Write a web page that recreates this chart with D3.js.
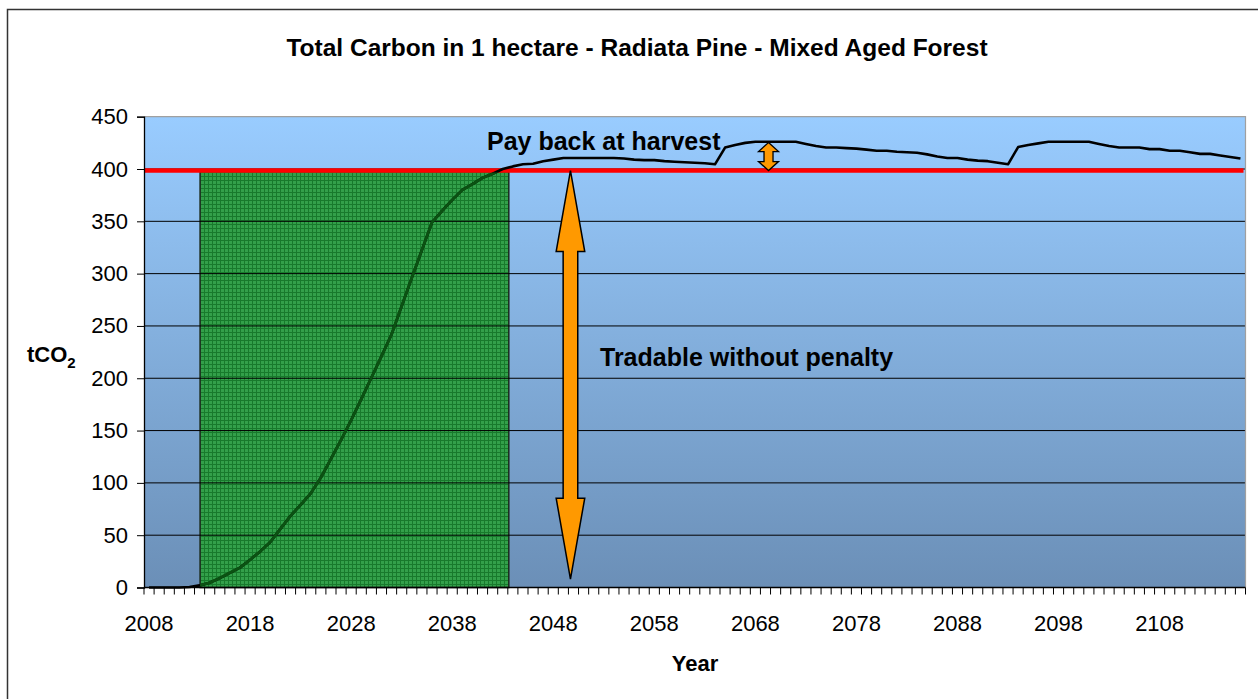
<!DOCTYPE html>
<html>
<head>
<meta charset="utf-8">
<script src="https://cdn.jsdelivr.net/npm/d3@7"></script>
<style>
  html, body { margin: 0; padding: 0; background: #ffffff; }
  svg { display: block; font-family: "Liberation Sans", Arial, sans-serif; }
</style>
</head>
<body>
<div id="chart"></div>
<script>
// Total carbon (tCO2) per hectare, one value per year from 2008
const startYear = 2008;
const carbon = [
  0, 0, 0, 0, 0.5, 2, 4.5, 9, 14, 19,
  26.5, 34.5, 43.5, 56, 68.5, 79, 90, 105, 123, 141,
  160, 180, 200.5, 221, 242, 269, 296, 322.5, 349, 360,
  370.5, 380, 385.5, 391.5, 395.5, 400, 402.5, 404.5, 405, 407.5,
  409, 410.5, 410.5, 410.5, 410.5, 410.5, 410.5, 410, 409, 408.5,
  408.5, 407.5, 407, 406.5, 406, 405.5, 404.5, 420.5, 423, 425,
  426, 426, 426, 426, 426, 424, 422, 420.5, 420.5, 420,
  419.5, 418.5, 417.5, 417.5, 416.5, 416, 415.5, 414, 412, 410.5,
  410.5, 409, 408, 407.5, 406, 404.5, 421, 423, 424.5, 426,
  426, 426, 426, 426, 424, 422, 420.5, 420.5, 420.5, 419,
  419, 417.5, 417.5, 416, 414.5, 414.5, 413, 411.5, 410
];
const years = carbon.map((d, i) => startYear + i);

const xTickLabels = [2008, 2018, 2028, 2038, 2048, 2058, 2068, 2078, 2088, 2098, 2108];
const yTicks = [0, 50, 100, 150, 200, 250, 300, 350, 400, 450];

// annotations (in data units)
const thresholdValue = 398.5;
const growthWindow = [2013.05, 2043.6];
const tradableArrow = [2049.7, 398.5, 8];   // year, top, bottom
const paybackArrow = [2069.3, 425.3, 398.5];

const width = 1258, height = 699;
const plot = { left: 144, right: 1245.5, top: 116.7, bottom: 587.5 };

const svg = d3.select("#chart").append("svg")
  .attr("width", width)
  .attr("height", height);

const defs = svg.append("defs");

const bg = defs.append("linearGradient")
  .attr("id", "bg")
  .attr("x1", 0).attr("y1", 0).attr("x2", 0).attr("y2", 1);
bg.append("stop").attr("offset", "0%").attr("stop-color", "#99ccff");
bg.append("stop").attr("offset", "100%").attr("stop-color", "#6b8fb7");

// fine green grid fill
const pat = defs.append("pattern")
  .attr("id", "grid")
  .attr("patternUnits", "userSpaceOnUse")
  .attr("width", 4).attr("height", 4);
pat.append("rect").attr("width", 4).attr("height", 4).attr("fill", "#33a04a");
pat.append("path")
  .attr("d", "M0 0.5H4M0.5 0V4")
  .attr("stroke", "#187a2c")
  .attr("stroke-width", 1);

// scales
const x = d3.scaleBand()
  .domain(years)
  .range([plot.left, plot.right])
  .paddingInner(0).paddingOuter(0);
const bw = x.bandwidth();
const xYear = d3.scaleLinear()
  .domain([years[0], years[years.length - 1]])
  .range([x(years[0]) + bw / 2, x(years[years.length - 1]) + bw / 2]);
const y = d3.scaleLinear()
  .domain([0, 450])
  .range([plot.bottom, plot.top]);

// outer chart border
svg.append("rect")
  .attr("x", 7.5).attr("y", 9.5)
  .attr("width", width + 20).attr("height", height + 20)
  .attr("fill", "none")
  .attr("stroke", "#333")
  .attr("stroke-width", 1.5);

// plot background
svg.append("rect")
  .attr("x", plot.left).attr("y", plot.top)
  .attr("width", plot.right - plot.left)
  .attr("height", plot.bottom - plot.top)
  .attr("fill", "url(#bg)");

// growth window block
svg.append("rect")
  .attr("x", xYear(growthWindow[0]))
  .attr("y", y(thresholdValue))
  .attr("width", xYear(growthWindow[1]) - xYear(growthWindow[0]))
  .attr("height", y(0) - y(thresholdValue))
  .attr("fill", "url(#grid)")
  .attr("stroke", "#1c2b1c")
  .attr("stroke-width", 1.5);

// gridlines
svg.append("g")
  .selectAll("line")
  .data(yTicks.filter(d => d > 0 && d < 450))
  .join("line")
  .attr("x1", plot.left).attr("x2", plot.right)
  .attr("y1", d => y(d)).attr("y2", d => y(d))
  .attr("stroke", "#000")
  .attr("stroke-width", 1);

// plot border (top/right)
svg.append("path")
  .attr("d", `M${plot.left},${plot.top}H${plot.right}V${plot.bottom}`)
  .attr("fill", "none")
  .attr("stroke", "#a0a0a0")
  .attr("stroke-width", 1.2);

// red threshold line
svg.append("line")
  .attr("x1", plot.left).attr("x2", plot.right - 2)
  .attr("y1", y(thresholdValue)).attr("y2", y(thresholdValue))
  .attr("stroke", "#ff0000")
  .attr("stroke-width", 4.5);

// carbon line
const line = d3.line()
  .x((d, i) => x(years[i]) + bw / 2)
  .y(d => y(d));

svg.append("path")
  .datum(carbon)
  .attr("d", line)
  .attr("fill", "none")
  .attr("stroke", "#000")
  .attr("stroke-width", 2.6)
  .attr("stroke-linejoin", "round");

// same line seen through the green block
defs.append("clipPath").attr("id", "blockClip")
  .append("rect")
  .attr("x", xYear(growthWindow[0]))
  .attr("y", y(thresholdValue) + 2)
  .attr("width", xYear(growthWindow[1]) - xYear(growthWindow[0]))
  .attr("height", y(0) - y(thresholdValue) - 2);

svg.append("path")
  .datum(carbon)
  .attr("d", line)
  .attr("clip-path", "url(#blockClip)")
  .attr("fill", "none")
  .attr("stroke", "#0b5212")
  .attr("stroke-width", 2.8)
  .attr("stroke-linejoin", "round");

// double headed arrows
function arrowPath(cx, y1, y2, shaftW, headW, headL) {
  const s = shaftW / 2, h = headW / 2;
  return `M${cx},${y1}L${cx + h},${y1 + headL}L${cx + s},${y1 + headL}` +
    `L${cx + s},${y2 - headL}L${cx + h},${y2 - headL}L${cx},${y2}` +
    `L${cx - h},${y2 - headL}L${cx - s},${y2 - headL}L${cx - s},${y1 + headL}` +
    `L${cx - h},${y1 + headL}Z`;
}

svg.append("path")
  .attr("d", arrowPath(xYear(tradableArrow[0]), y(tradableArrow[1]), y(tradableArrow[2]), 14.6, 28.6, 81))
  .attr("fill", "#ff9900")
  .attr("stroke", "#000")
  .attr("stroke-width", 1.5)
  .attr("stroke-linejoin", "miter");

svg.append("path")
  .attr("d", arrowPath(xYear(paybackArrow[0]), y(paybackArrow[1]), y(paybackArrow[2]), 9, 20, 9))
  .attr("fill", "#ff9900")
  .attr("stroke", "#000")
  .attr("stroke-width", 1.3);

// y axis
const yAxis = svg.append("g")
  .attr("transform", `translate(${plot.left},0)`)
  .call(d3.axisLeft(y).tickValues(yTicks).tickSize(7).tickPadding(9));
yAxis.select(".domain").attr("stroke", "#000").attr("stroke-width", 1.3);
yAxis.selectAll(".tick line").attr("stroke", "#000");
yAxis.selectAll(".tick text")
  .attr("font-size", 22)
  .attr("fill", "#000")
  .attr("font-family", "Liberation Sans, Arial, sans-serif");

// x axis: ticks between categories, labels every 10 years
const xAxis = svg.append("g").attr("transform", `translate(0,${plot.bottom})`);
xAxis.append("line")
  .attr("x1", plot.left).attr("x2", plot.right)
  .attr("stroke", "#000").attr("stroke-width", 1.3);
xAxis.selectAll("line.tick")
  .data(years.concat([null]))
  .join("line")
  .attr("class", "tick")
  .attr("x1", d => d === null ? plot.right : x(d))
  .attr("x2", d => d === null ? plot.right : x(d))
  .attr("y1", 0).attr("y2", 7)
  .attr("stroke", "#000");
xAxis.selectAll("text")
  .data(xTickLabels)
  .join("text")
  .attr("x", d => x(d) + bw / 2)
  .attr("y", 43)
  .attr("text-anchor", "middle")
  .attr("font-size", 22)
  .text(d => d);

// titles and labels
svg.append("text")
  .attr("x", 637).attr("y", 56)
  .attr("text-anchor", "middle")
  .attr("font-size", 24.5)
  .attr("font-weight", "bold")
  .text("Total Carbon in 1 hectare - Radiata Pine - Mixed Aged Forest");

svg.append("text")
  .attr("x", 695).attr("y", 671)
  .attr("text-anchor", "middle")
  .attr("font-size", 22)
  .attr("font-weight", "bold")
  .text("Year");

const yl = svg.append("text")
  .attr("x", 27).attr("y", 362)
  .attr("font-size", 22)
  .attr("font-weight", "bold");
yl.append("tspan").text("tCO");
yl.append("tspan").attr("font-size", 15).attr("dy", 6).text("2");

svg.append("text")
  .attr("x", 487).attr("y", 150)
  .attr("font-size", 25)
  .attr("font-weight", "bold")
  .text("Pay back at harvest");

svg.append("text")
  .attr("x", 600).attr("y", 366)
  .attr("font-size", 25)
  .attr("font-weight", "bold")
  .text("Tradable without penalty");
</script>
</body>
</html>
